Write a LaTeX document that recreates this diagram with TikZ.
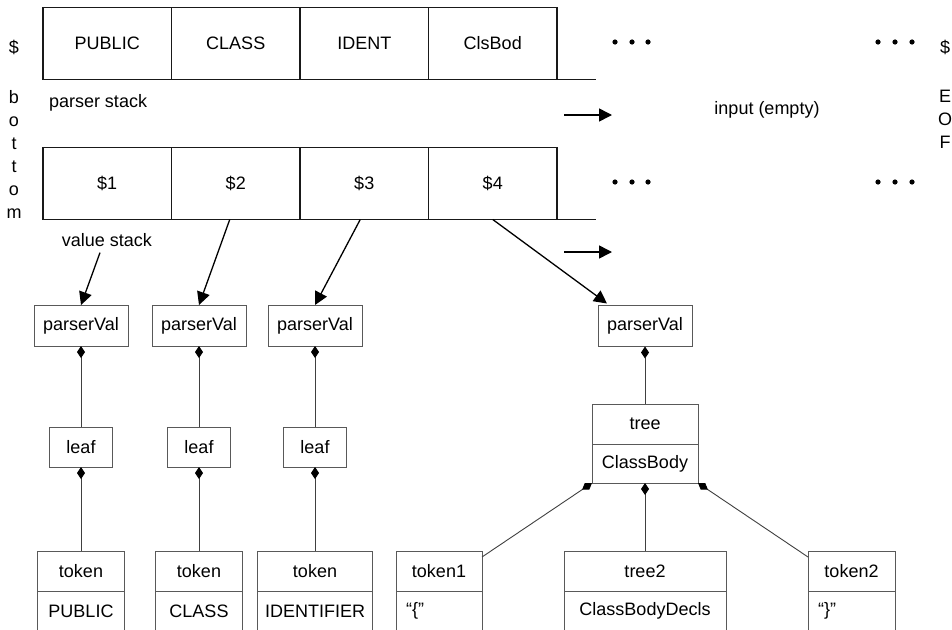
\documentclass[tikz,border=0pt]{standalone}
\usepackage{fontspec}
\setmainfont{Liberation Sans}
\usetikzlibrary{arrows.meta,calc}
\newcommand\diagfont{\fontsize{18pt}{23pt}\selectfont}
\begin{document}
\begin{tikzpicture}[x=1pt,y=-1pt, font=\diagfont,
  cell/.style={draw=black!90, line width=1.7pt, minimum width=128.5pt, minimum height=72pt, inner sep=0pt, outer sep=0pt},
  stackline/.style={draw=black!90, line width=1.7pt},
  uml/.style={draw=black!65, line width=0.9pt, inner sep=0pt, outer sep=0pt, minimum height=40pt},
  lbl/.style={inner sep=0pt, outer sep=0pt},
  comp/.style={draw=black!75, line width=0.9pt, {Diamond[length=12pt,width=8pt,color=black,fill=black]}-},
  arr/.style={draw=black, line width=1.3pt, -{Triangle[length=13pt,width=13pt]}},
]
\useasboundingbox (0,0) rectangle (952,629);
\clip (0,0) rectangle (952,629);

% parser stack
\node[cell] (p1) at (107.25,43.5) {PUBLIC};
\node[cell] (p2) at (235.75,43.5) {CLASS};
\node[cell] (p3) at (364.25,43.5) {IDENT};
\node[cell] (p4) at (492.75,43.5) {ClsBod};
\coordinate (pend) at (596,79.5);
\draw[stackline] (p4.south east) -- (pend);

% value stack
\node[cell] (v1) at (107.25,183.5) {\$1};
\node[cell] (v2) at (235.75,183.5) {\$2};
\node[cell] (v3) at (364.25,183.5) {\$3};
\node[cell] (v4) at (492.75,183.5) {\$4};
\coordinate (vend) at (596,219.5);
\draw[stackline] (v4.south east) -- (vend);

% dots
\foreach \x in {615,632,648,878,895,912} {
  \fill (\x,42) circle (2.6pt);
  \fill (\x,182) circle (2.6pt);
}

% side labels
\node[lbl] (dl) at (14,47) {\$};
\node[lbl, align=center] (bot) at (14,154) {b\\o\\t\\t\\o\\m};
\node[lbl] (dr) at (945,47) {\$};
\node[lbl, align=center] (eof) at (945,119) {E\\O\\F};
\node[lbl, anchor=west] (ps) at (49,103) {parser stack};
\node[lbl] (inp) at (767,110) {input (empty)};
\node[lbl] (vs) at (107,240) {value stack};

% input arrows
\coordinate (ia1) at (564,115); \coordinate (ib1) at (612,115);
\coordinate (ia2) at (564,252); \coordinate (ib2) at (612,252);
\draw[arr, line width=1.5pt] (ia1) -- (ib1);
\draw[arr, line width=1.5pt] (ia2) -- (ib2);

% parserVal boxes
\node[uml, minimum width=94pt, minimum height=41pt] (pv1) at (81,325.5) {parserVal};
\node[uml, minimum width=94pt, minimum height=41pt] (pv2) at (199,325.5) {parserVal};
\node[uml, minimum width=94pt, minimum height=41pt] (pv3) at (315,325.5) {parserVal};
\node[uml, minimum width=94pt, minimum height=41pt] (pv4) at (645,326) {parserVal};

% leaves
\node[uml, minimum width=63pt] (lf1) at (81,447) {leaf};
\node[uml, minimum width=63pt] (lf2) at (199,447) {leaf};
\node[uml, minimum width=63pt] (lf3) at (315,447) {leaf};

% tree
\node[uml, minimum width=106pt, minimum height=40pt] (trA) at (645,424) {tree};
\node[uml, minimum width=106pt, minimum height=39pt] (trB) at (645,463.5) {ClassBody};

% tokens
\node[uml, minimum width=87pt] (t1h) at (81,571) {token};
\node[uml, minimum width=87pt] (t1v) at (81,611) {PUBLIC};
\node[uml, minimum width=87pt] (t2h) at (199,571) {token};
\node[uml, minimum width=87pt] (t2v) at (199,611) {CLASS};
\node[uml, minimum width=115pt] (t3h) at (315,571) {token};
\node[uml, minimum width=115pt] (t3v) at (315,611) {IDENTIFIER};
\node[uml, minimum width=86pt] (t4h) at (439,571) {token1};
\node[uml, minimum width=86pt] (t4v) at (439,611) {};
\node[lbl, anchor=west] (t4t) at ($(t4v.west)+(10,0)$) {“\{”};
\node[uml, minimum width=162pt] (t5h) at (645,571) {tree2};
\node[uml, minimum width=162pt] (t5v) at (645,611) {ClassBodyDecls};
\node[uml, minimum width=87pt] (t6h) at (851.5,571) {token2};
\node[uml, minimum width=87pt] (t6v) at (851.5,611) {};
\node[lbl, anchor=west] (t6t) at ($(t6v.west)+(10,0)$) {“\}”};

% value stack arrows
\draw[arr] ($(vs.south)+(-7,6)$) -- (pv1.north);
\draw[arr] ($(v2.south)+(-6,0)$) -- (pv2.north);
\draw[arr] ($(v3.south)+(-4,0)$) -- (pv3.north);
\draw[arr] (v4.south) -- ($(pv4.north west)+(9,-2)$);

% composition connectors
\draw[comp] (pv1.south) -- (lf1.north);
\draw[comp] (pv2.south) -- (lf2.north);
\draw[comp] (pv3.south) -- (lf3.north);
\draw[comp] (lf1.south) -- (t1h.north);
\draw[comp] (lf2.south) -- (t2h.north);
\draw[comp] (lf3.south) -- (t3h.north);
\draw[comp] (pv4.south) -- (trA.north);
\draw[comp] (trB.south) -- (t5h.north);
\draw[comp] (trB.south west) -- ($(t4h.north east)+(0,6)$);
\draw[comp] (trB.south east) -- ($(t6h.north west)+(0,6)$);
\end{tikzpicture}
\end{document}
